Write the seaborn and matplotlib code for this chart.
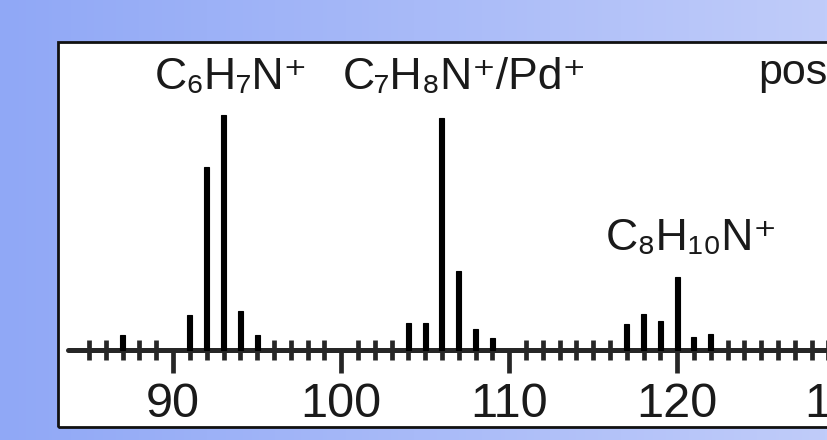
import numpy as np
import pandas as pd
import matplotlib
matplotlib.use("Agg")
import matplotlib.pyplot as plt
import seaborn as sns
from matplotlib import font_manager
from matplotlib.colors import LinearSegmentedColormap
from matplotlib.patches import Rectangle
from matplotlib.ticker import FixedLocator

# peak positions (m/z) and heights (relative, tallest = 100)
mz = [87, 91, 92, 93, 94, 95, 104, 105, 106, 107, 108, 109, 117, 118, 119, 120, 121, 122]
intensity = [6.4, 14.9, 77.9, 100, 16.6, 6.4, 11.5, 11.5, 98.7, 33.6, 8.9, 5.1,
             11.1, 15.3, 12.3, 31.1, 5.5, 6.8]

major_ticks = [90, 100, 110, 120, 130]
minor_ticks = list(range(85, 131))

# peak assignments (centre of each label, in m/z and intensity units)
labels = ['C₆H₇N⁺', 'C₇H₈N⁺/Pd⁺', 'C₈H₁₀N⁺']
label_x = [93.45, 107.38, 120.89]
label_y = [111, 111, 42.6]

spectrum = pd.DataFrame({'mz': mz, 'intensity': intensity})

sns.set_style('white')
names = {f.name for f in font_manager.fontManager.ttflist}
font = 'Liberation Sans Narrow' if 'Liberation Sans Narrow' in names else 'Liberation Sans'
plt.rcParams['font.family'] = [font, 'DejaVu Sans']

fig = plt.figure(figsize=(8.28, 4.4), dpi=100)

# blue gradient backdrop
bg = fig.add_axes([0, 0, 1, 1], zorder=-1)
grad = np.linspace(0, 1, 256).reshape(1, -1)
cmap = LinearSegmentedColormap.from_list('bg', ['#90a8f6', '#c0ccfa'])
bg.imshow(grad, aspect='auto', cmap=cmap, extent=[0, 1, 0, 1])
bg.axis('off')

# white panel, runs off the right edge like the original
ax = fig.add_axes([58 / 828, 13 / 440, 0.971, 385 / 440])
ax.set_facecolor('white')
sns.barplot(data=spectrum, x='mz', y='intensity', native_scale=True, width=0.3,
            color='black', saturation=1, edgecolor='black', linewidth=0.8,
            errorbar=None, ax=ax, zorder=3)

ax.set_xlim(83.15, 131)
ax.set_ylim(-32.8, 131.1)
for s in ['top', 'left', 'right']:
    ax.spines[s].set_visible(False)
ax.spines['bottom'].set_position(('data', 0))
ax.spines['bottom'].set_linewidth(3.6)
ax.spines['bottom'].set_bounds(83.75, 131)
ax.spines['bottom'].set_capstyle('round')

ax.set_xticks(major_ticks)
ax.xaxis.set_minor_locator(FixedLocator(minor_ticks))
ax.tick_params(axis='x', which='major', direction='out', length=16.5, width=3.4,
               pad=6.5, labelsize=35, labelcolor='#1a1a1a', bottom=True)
ax.tick_params(axis='x', which='minor', direction='inout', length=15, width=3.4, bottom=True)
ax.set_yticks([])
ax.set_xlabel('')
ax.set_ylabel('')

frame = Rectangle((0, 0), 1, 1, transform=ax.transAxes, fill=False, lw=2,
                  edgecolor='#111111', clip_on=False, zorder=5)
ax.add_patch(frame)

for t, x, y in zip(labels, label_x, label_y):
    ax.text(x, y, t, fontsize=32, va='baseline', ha='center', color='#1a1a1a')
ax.text(124.8, 113.2, 'pos', fontsize=31, va='baseline', ha='left', color='#1a1a1a')

fig.savefig('out.png', dpi=100)
